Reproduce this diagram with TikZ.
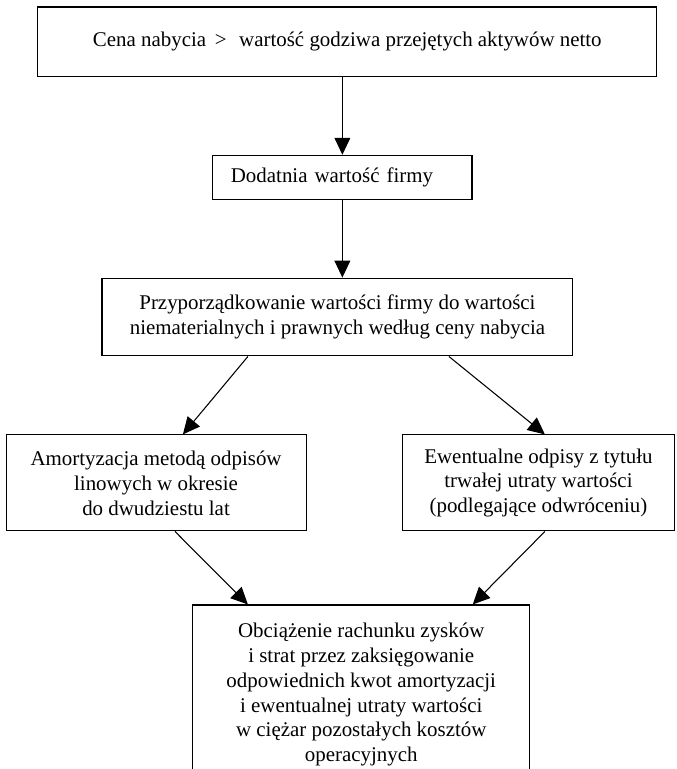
\documentclass[tikz,border=0pt]{standalone}
\usepackage{fontspec}
\setmainfont{Liberation Serif}
\usetikzlibrary{arrows.meta}

\begin{document}
\begin{tikzpicture}[
    blok/.style={draw, line width=0.8pt, inner sep=0pt, align=center,
        font=\fontsize{15.75}{18.75}\selectfont},
    strz/.style={line width=0.8pt, -{Triangle[length=4.5mm, width=4.2mm]}}]
    \useasboundingbox (0,0) rectangle (17.91,20.35);

    % boxes
    \node[blok, minimum width=16.38cm, minimum height=1.85cm] (cena) at (9.19,19.24)
        {Cena nabycia \,>\hspace{0.6em}wartość godziwa przejętych aktywów netto};
    \node[blok, align=left, text width=5.90cm, inner xsep=0.48cm, minimum height=1.16cm] (dodatnia) at (9.06,15.66)
        {Dodatnia wartość firmy};
    \node[blok, minimum width=12.46cm, minimum height=2.06cm] (przyp) at (8.93,11.96)
        {Przyporządkowanie wartości firmy do wartości\\niematerialnych i prawnych według ceny nabycia};
    \node[blok, minimum width=7.94cm, minimum height=2.54cm] (amort) at (4.13,7.57)
        {Amortyzacja metodą odpisów\\linowych w okresie\\do dwudziestu lat};
    \node[blok, minimum width=7.22cm, minimum height=2.54cm] (odpisy) at (14.25,7.57)
        {Ewentualne odpisy z tytułu\\trwałej utraty wartości\\(podlegające odwróceniu)};
    \node[blok, minimum width=8.92cm, minimum height=4.74cm] (obciaz) at (9.56,1.97)
        {Obciążenie rachunku zysków\\i strat przez zaksięgowanie\\odpowiednich kwot amortyzacji\\i ewentualnej utraty wartości\\w ciężar pozostałych kosztów\\operacyjnych};

    % arrows
    \draw[strz] (dodatnia.north |- cena.south) -- (dodatnia.north);
    \draw[strz] (dodatnia.south) -- (dodatnia.south |- przyp.north);
    \draw[strz] ([xshift=-2.37cm]przyp.south) -- ([xshift=0.71cm]amort.north);
    \draw[strz] ([xshift=2.95cm]przyp.south) -- ([xshift=0.17cm]odpisy.north);
    \draw[strz] ([xshift=0.50cm]amort.south) -- ([xshift=-3.00cm]obciaz.north);
    \draw[strz] ([xshift=0.17cm]odpisy.south) -- ([xshift=2.95cm]obciaz.north);
\end{tikzpicture}
\end{document}
